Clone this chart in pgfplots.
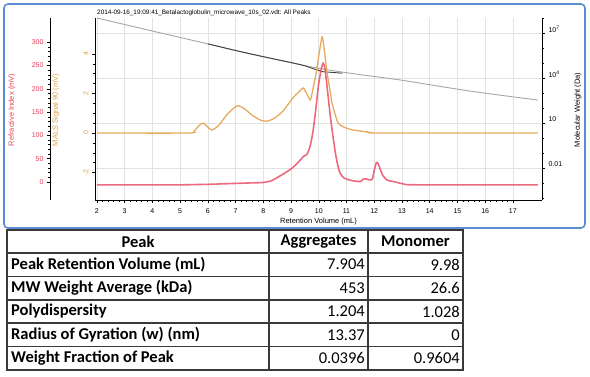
\documentclass[border=0pt]{standalone}
\usepackage{pgfplots}
\pgfplotsset{compat=1.18}
\usepackage{fontspec}
\setmainfont{Liberation Sans}
\newfontfamily\tabfont{Carlito}
\definecolor{ri}{HTML}{E8506A}
\definecolor{rilab}{HTML}{E8405A}
\definecolor{ls}{HTML}{E6AA5E}
\definecolor{lslab}{HTML}{DDA040}
\definecolor{frame}{HTML}{5B8BD0}
\definecolor{gridc}{HTML}{E2E2E2}
\definecolor{tline}{HTML}{3A3A3A}

\pgfplotstableread{
x y
2.0 -6
5.0 -6
5.5 -5.5
6.0 -5
6.5 -4
7.0 -3
7.5 -2
8.0 -1
8.3 3
8.6 13
8.9 24
9.1 33
9.3 45
9.45 55
9.58 60
9.7 80
9.8 112
9.9 160
9.98 204
10.08 240
10.16 255
10.22 245
10.3 204
10.4 150
10.48 112
10.6 62
10.7 32
10.77 19
10.9 9
11.13 4
11.3 2
11.5 1
11.6 6
11.7 7
11.8 5
11.93 6
12.0 25
12.08 42
12.15 38
12.3 15
12.47 4
12.7 1
13.05 -4
13.5 -6
17.9 -6
}\ritable

\pgfplotstableread{
x y
2.0 0
5.3 0
5.5 0.1
5.7 0.4
5.83 0.5
6.0 0.3
6.15 0.15
6.4 0.4
6.7 0.95
7.05 1.37
7.3 1.25
7.6 0.9
7.9 0.65
8.14 0.6
8.4 0.75
8.7 1.1
9.08 1.8
9.3 2.1
9.44 2.28
9.58 1.95
9.7 1.67
9.8 2.3
9.9 3.0
10.0 3.9
10.12 4.86
10.2 4.2
10.3 3.04
10.4 2.2
10.48 1.5
10.6 0.9
10.7 0.5
10.9 0.3
11.24 0.15
11.8 0.05
12.2 0
17.9 0
}\lstable

\pgfplotstableread{
x y
2.0 1.0e8
3.91 1.479e7
5.71 2.512e6
7.88 2.951e5
9.93 4.677e4
11.48 1.698e4
12.93 7413
15.45 1349
17.9 338.8
}\mwfit

\pgfplotstableread{
x y
6.0 1.888e6
7.0 6.8e5
7.88 2.951e5
9.0 1.07e5
9.5 6.5e4
9.79 4.2e4
10.0 3.2e4
10.1 2.7e4
10.5 2.35e4
10.85 2.1e4
}\mwdata

\begin{document}
\begin{tikzpicture}[x=1pt,y=1pt]
\path[use as bounding box] (0,0) rectangle (590,376);
\draw[frame, line width=1.6pt, rounded corners=4pt] (4,148) rectangle (585,372);
\node[anchor=west, font=\fontsize{6.4}{7}\selectfont, inner sep=0pt] at (97,363) {2014-09-16\_19:09:41\_Betalactoglobulin\_microwave\_10s\_02.vdt: All Peaks};

\pgfplotsset{common/.style={scale only axis, width=447pt, height=182pt,
  at={(95pt,176pt)}, anchor=south west, xmin=1.93, xmax=18.05,
  every tick label/.append style={font=\fontsize{7}{8}\selectfont},
  /pgf/number format/assume math mode=true,
  tick style={black, line width=0.5pt}, major tick length=3pt, minor tick length=1.6pt,
  tick align=outside}}

% MW axis with grid and x axis
\begin{axis}[common, ymode=log, ymin=7.36e-5, ymax=1e8,
  axis y line*=right, axis x line*=bottom,
  xtick={2,...,17}, minor x tick num=4,
  xticklabel style={yshift=-2pt},
  ytick={1e-2,1e1,1e4,1e7}, yticklabels={0.01,10,10\textsuperscript{4},10\textsuperscript{7}},
  minor ytick={1e-4,1e-3,1e-1,1,1e2,1e3,1e5,1e6,1e8},
  yticklabel style={yshift=4pt},
  xmajorgrids, ymajorgrids, major grid style={gridc, line width=0.6pt},
  xlabel={Retention Volume (mL)},
  xlabel style={at={(axis description cs:0.5,-0.12)}, anchor=center, font=\fontsize{7.5}{8}\selectfont},
  axis line style={line width=0.8pt}]
\addplot[color=black!35, line width=0.9pt, smooth] table {\mwfit};
\addplot[color=black!75, line width=0.9pt, smooth] table {\mwdata};
\end{axis}

% MALS axis
\begin{axis}[common, ymin=-3.39, ymax=5.82, axis y line*=left, axis x line=none,
  ytick={-2,0,2,4}, minor y tick num=3,
  yticklabel style={rotate=90, anchor=south, text=lslab},
  axis line style={line width=0.8pt}]
\addplot[color=ls, line width=1.3pt, smooth, tension=0.4] table {\lstable};
\end{axis}

% RI data axis
\begin{axis}[common, ymin=-38.6, ymax=352, axis y line=none, axis x line=none]
\addplot[color=ri, opacity=0.85, line width=1.6pt, smooth, tension=0.4] table {\ritable};
\end{axis}

% RI scale axis
\begin{axis}[scale only axis, width=45pt, height=182pt, at={(50pt,176pt)}, anchor=south west,
  xmin=0, xmax=1, ymin=-38.6, ymax=352, axis y line*=left, axis x line=none,
  every tick label/.append style={font=\fontsize{7}{8}\selectfont},
  /pgf/number format/assume math mode=true,
  tick style={black, line width=0.5pt}, major tick length=3pt, minor tick length=1.6pt, tick align=outside,
  ytick={0,50,...,300}, minor y tick num=4,
  yticklabel style={text=rilab},
  axis line style={line width=0.8pt}]
\end{axis}

% axis titles
\node[rotate=90, text=rilab, font=\fontsize{7.5}{8}\selectfont] at (12,266) {Refractive Index (mV)};
\node[rotate=90, text=lslab, font=\fontsize{7.5}{8}\selectfont] at (56,266) {MALS Signal 90 (mV)};
\node[rotate=90, font=\fontsize{7.5}{8}\selectfont] at (578,266) {Molecular Weight (Da)};

% table
\draw[tline, line width=1.5pt] (7,146) rectangle (463,6);
\draw[tline, line width=1.5pt] (7,123) -- (463,123);
\draw[tline, line width=1.5pt] (7,99.6) -- (463,99.6);
\draw[tline, line width=1.5pt] (7,76.2) -- (463,76.2);
\draw[tline, line width=1.5pt] (7,52.8) -- (463,52.8);
\draw[tline, line width=1.5pt] (7,29.4) -- (463,29.4);
\draw[tline, line width=1.5pt] (269,146) -- (269,6);
\draw[tline, line width=1.5pt] (368,146) -- (368,6);
\tikzset{h/.style={font=\tabfont\fontsize{16.5}{17}\selectfont\bfseries, anchor=center, inner sep=0pt},
  l/.style={font=\tabfont\fontsize{16.5}{17}\selectfont\bfseries, anchor=west, inner sep=0pt},
  n/.style={font=\tabfont\fontsize{16.5}{17}\selectfont, anchor=east, inner sep=0pt}}
\node[h] at (138,134.5) {Peak};
\node[h] at (318.5,134.5) {Aggregates};
\node[h] at (415.5,134.5) {Monomer};
\node[l] at (11,111.3) {Peak Retention Volume (mL)};
\node[l] at (11,87.9) {MW Weight Average (kDa)};
\node[l] at (11,64.5) {Polydispersity};
\node[l] at (11,41.1) {Radius of Gyration (w) (nm)};
\node[l] at (11,17.7) {Weight Fraction of Peak};
\node[n] at (365,111.3) {7.904};
\node[n] at (365,87.9) {453};
\node[n] at (365,64.5) {1.204};
\node[n] at (365,41.1) {13.37};
\node[n] at (365,17.7) {0.0396};
\node[n] at (460,111.3) {9.98};
\node[n] at (460,87.9) {26.6};
\node[n] at (460,64.5) {1.028};
\node[n] at (460,41.1) {0};
\node[n] at (460,17.7) {0.9604};
\end{tikzpicture}
\end{document}
